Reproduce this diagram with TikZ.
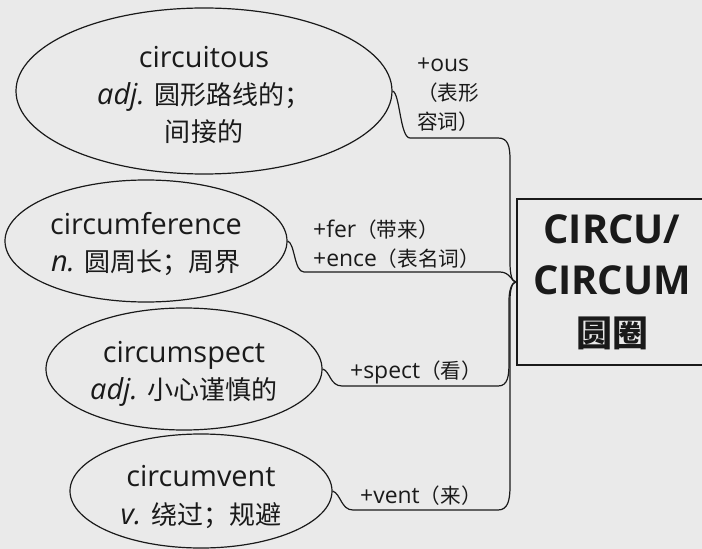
\documentclass[tikz,border=0pt]{standalone}
\usepackage{fontspec}
\setmainfont{Open Sans}
\newfontfamily\cjk[Scale=0.9]{Noto Sans CJK SC}
\usetikzlibrary{shapes.geometric}
\definecolor{bg}{HTML}{EAEAEA}
\definecolor{ink}{HTML}{1A1A1A}
\begin{document}
\begin{tikzpicture}[x=1bp,y=-1bp,
  word/.style={ellipse, draw=ink, line width=1.2bp, inner sep=0pt},
  wtext/.style={inner sep=0pt, align=center, text=ink,
    font=\fontsize{29}{37.5}\selectfont},
  lbl/.style={inner sep=0pt, align=left, anchor=west, text=ink,
    font=\fontsize{23}{29}\selectfont},
  conn/.style={draw=ink, line width=1.2bp}]
\fill[bg] (0,0) rectangle (702,549);
\clip (0,0) rectangle (702,549);
\useasboundingbox (0,0) rectangle (702,549);

\node[word, minimum width=376bp, minimum height=166bp] (e1) at (204,91) {};
\node[wtext] (e1t) at (204,95) {circuitous\\\textit{adj.} {\cjk 圆形路线的；}\\{\cjk 间接的}};
\node[word, minimum width=282bp, minimum height=122bp] (e2) at (146,241) {};
\node[wtext] (e2t) at (146,244) {circumference\\\textit{n.} {\cjk 圆周长；周界}};
\node[word, minimum width=276bp, minimum height=122bp] (e3) at (184,369) {};
\node[wtext] (e3t) at (184,374) {circumspect\\\textit{adj.} {\cjk 小心谨慎的}};
\node[word, minimum width=262bp, minimum height=114bp] (e4) at (201,491) {};
\node[wtext] (e4t) at (201,497) {circumvent\\\textit{v.} {\cjk 绕过；规避}};

\node[draw=ink, line width=1.8bp, minimum width=190bp, minimum height=166bp, inner sep=0pt,
  align=center, text=ink, font=\bfseries\fontsize{40}{51.5}\selectfont] (root) at (612,282)
  {CIRCU/\\CIRCUM\\{\cjk 圆圈}};

\node[lbl] (l1) at (417,95) {+ous\\{\cjk （表形}\\{\cjk 容词）}};
\node[lbl] (l2) at (313,244) {+fer{\cjk （带来）}\\+ence{\cjk （表名词）}};
\node[lbl] (l3) at (350,372) {+spect{\cjk （看）}};
\node[lbl] (l4) at (360,496) {+vent{\cjk （来）}};

\path[conn] (e1.east) .. controls (400,93) and (400,138) .. (410,138) -- (498,138)
  .. controls (508,138) and (510,146) .. (510,160) -- (510,262)
  .. controls (510,275) and (512,282) .. (root.west);
\path[conn] (e2.east) .. controls (295,243) and (294,272) .. (304,272) -- (500,272)
  .. controls (510,272) and (512,282) .. (root.west);
\path[conn] (e3.east) .. controls (330,371) and (330,386) .. (342,386) -- (498,386)
  .. controls (508,386) and (509,376) .. (509,362) -- (509,300)
  .. controls (509,290) and (512,282) .. (root.west);
\path[conn] (e4.east) .. controls (341,494) and (341,510) .. (353,510) -- (498,510)
  .. controls (508,510) and (510,500) .. (510,486) -- (510,300)
  .. controls (510,290) and (512,282) .. (root.west);
\end{tikzpicture}
\end{document}
